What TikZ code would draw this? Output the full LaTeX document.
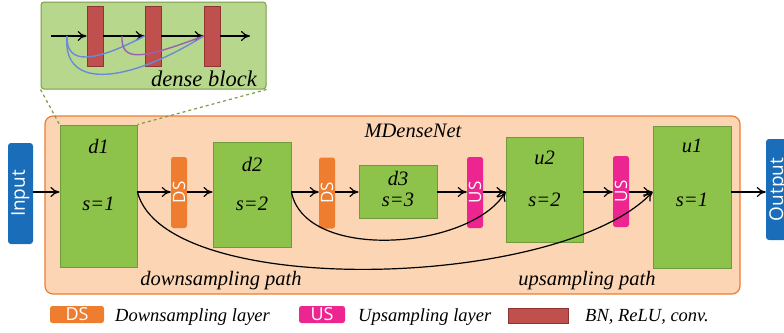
\documentclass[tikz,border=0pt]{standalone}
\usepackage{fontspec}
\usepackage{graphicx}
\setmainfont{Liberation Serif}
\newfontfamily\labelsans{Open Sans}
\usetikzlibrary{arrows.meta}
\definecolor{netpeach}{HTML}{FCD5B4}
\definecolor{netline}{HTML}{EE7D31}
\definecolor{blockgreen}{HTML}{8DC34A}
\definecolor{blockline}{HTML}{6F9A3C}
\definecolor{insetgreen}{HTML}{B7D88C}
\definecolor{insetline}{HTML}{7B9C48}
\definecolor{bnred}{HTML}{C0504D}
\definecolor{bnline}{HTML}{8E3533}
\definecolor{dsorange}{HTML}{EE7D2F}
\definecolor{usmagenta}{HTML}{EC2590}
\definecolor{ioblue}{HTML}{1A6DB8}
\definecolor{skipblue}{HTML}{6A8AD8}
\definecolor{skippurple}{HTML}{9C5FB3}
\tikzset{
  blockbox/.style={draw=blockline, fill=blockgreen, line width=0.9pt, inner sep=0pt},
  layerbox/.style={fill=#1, rounded corners=2.5pt, inner sep=0pt, minimum width=16pt, minimum height=71pt,
    text=white, font=\labelsans\fontsize{17}{17}\selectfont},
  iobox/.style={fill=ioblue, rounded corners=3pt, inner sep=0pt, minimum width=25pt, minimum height=101pt,
    text=white, font=\labelsans\fontsize{19}{19}\selectfont},
  bnbar/.style={draw=bnline, fill=bnred, line width=0.8pt, inner sep=0pt, minimum width=16pt, minimum height=60pt},
  lbl/.style={inner sep=0pt, font=\itshape\fontsize{20.5}{20.5}\selectfont},
  legendtxt/.style={inner sep=0pt, anchor=base west, font=\itshape\fontsize{18.5}{18.5}\selectfont},
  flow/.style={-{To[length=9pt,width=10pt]}, line width=1.2pt},
  skip/.style={line width=1.4pt},
}
\begin{document}
\begin{tikzpicture}[x=1pt,y=-1pt]
\useasboundingbox (0,0) rectangle (784,332);
    %MDenseNet
\node[draw=netline, fill=netpeach, line width=1.2pt, rounded corners=8pt, inner sep=0pt,
  minimum width=695pt, minimum height=178pt] (net) at (392.5,205) {};
\node[lbl] (title) at (413,131) {MDenseNet};
    %Blocos
\node[blockbox, minimum width=77pt, minimum height=142pt] (d1) at (98.5,196) {};
\node[layerbox=dsorange] (ds1) at (179,192.5) {\rotatebox{90}{DS}};
\node[blockbox, minimum width=78pt, minimum height=105pt] (d2) at (252,194.5) {};
\node[layerbox=dsorange] (ds2) at (327,193) {\rotatebox{90}{DS}};
\node[blockbox, minimum width=78pt, minimum height=53pt] (d3) at (398,191.5) {};
\node[layerbox=usmagenta] (us1) at (475,192.5) {\rotatebox{90}{US}};
\node[blockbox, minimum width=77pt, minimum height=105pt] (u2) at (544.5,189.5) {};
\node[layerbox=usmagenta] (us2) at (621,191.5) {\rotatebox{90}{US}};
\node[blockbox, minimum width=78pt, minimum height=142pt] (u1) at (692,197) {};
\node[iobox] (input) at (20.5,193.5) {\rotatebox{90}{Input}};
\node[iobox] (output) at (778.5,189.5) {\rotatebox{90}{Output}};
    %Textos dos blocos
\node[lbl] (d1name) at (98.5,146) {d1};
\node[lbl] (d1scale) at (98.5,204) {s=1};
\node[lbl] (d2name) at (252,164) {d2};
\node[lbl] (d2scale) at (252,204) {s=2};
\node[lbl] (d3name) at (398,178) {d3};
\node[lbl] (d3scale) at (398,200) {s=3};
\node[lbl] (u2name) at (544.5,158) {u2};
\node[lbl] (u2scale) at (544.5,200) {s=2};
\node[lbl] (u1name) at (692,146) {u1};
\node[lbl] (u1scale) at (692,200) {s=1};
\node[lbl] (downpath) at (221,281) {downsampling path};
\node[lbl] (uppath) at (587,281) {upsampling path};
    %Setas
\coordinate (mid) at (0,192);
\draw[flow] (input.east |- mid) -- (d1.west |- mid);
\draw[flow] (d1.east |- mid) -- (ds1.west |- mid);
\draw[flow] (ds1.east |- mid) -- (d2.west |- mid);
\draw[flow] (d2.east |- mid) -- (ds2.west |- mid);
\draw[flow] (ds2.east |- mid) -- (d3.west |- mid);
\draw[flow] (d3.east |- mid) -- (us1.west |- mid);
\draw[flow] (us1.east |- mid) -- (u2.west |- mid);
\draw[flow] (u2.east |- mid) -- (us2.west |- mid);
\draw[flow] (us2.east |- mid) -- (u1.west |- mid);
\draw[flow] (u1.east |- mid) -- (output.west |- mid);
    %Conexoes longas
\draw[flow] (d1.east |- mid) .. controls (165,300) and (560,290) .. (u1.west |- mid);
\draw[flow] (d2.east |- mid) .. controls (305,262) and (470,250) .. (u2.west |- mid);
    %Dense block
\node[draw=insetline, fill=insetgreen, line width=1pt, rounded corners=3pt, inner sep=0pt,
  minimum width=225pt, minimum height=87pt] (inset) at (153.5,45.5) {};
\node[bnbar] (bar1) at (95,36) {};
\node[bnbar] (bar2) at (153,36) {};
\node[bnbar] (bar3) at (212,36) {};
\coordinate (din) at (51,36);
\coordinate (dout) at (250,36);
\coordinate (fork1) at (67,36);
\coordinate (fork2) at (122,36);
\draw[flow] (din) -- (bar1.west);
\draw[flow] (bar1.east) -- (bar2.west);
\draw[flow] (bar2.east) -- (bar3.west);
\draw[flow] (bar3.east) -- (dout);
\draw[skip, skipblue] (fork1) .. controls (66,66) and (95,62) .. (bar2.west);
\draw[skip, skipblue] (fork1) .. controls (62,92) and (130,82) .. (bar3.west);
\draw[skip, skippurple] (fork2) .. controls (121,62) and (140,60) .. (bar3.west);
\node[lbl, anchor=east, font=\itshape\fontsize{22.5}{22.5}\selectfont] (insetname) at (257,79) {dense block};
    %Zoom
\draw[insetline, dashed, line width=1.2pt] (inset.south west) -- (d1.north west);
\draw[insetline, dashed, line width=1.2pt] (inset.south east) -- (d1.north east);
    %Legenda
\node[layerbox=dsorange, minimum width=54pt, minimum height=17pt, font=\labelsans\fontsize{18}{18}\selectfont] (dskey) at (77,314.5) {DS};
\node[legendtxt] (dstxt) at (115,321) {Downsampling layer};
\node[layerbox=usmagenta, minimum width=46pt, minimum height=17pt, font=\labelsans\fontsize{18}{18}\selectfont] (uskey) at (322,314.5) {US};
\node[legendtxt] (ustxt) at (358,321) {Upsampling layer};
\node[bnbar, minimum width=60pt, minimum height=15pt] (bnkey) at (538,315.5) {};
\node[legendtxt] (bntxt) at (585,321) {BN, ReLU, conv.};
\end{tikzpicture}
\end{document}
